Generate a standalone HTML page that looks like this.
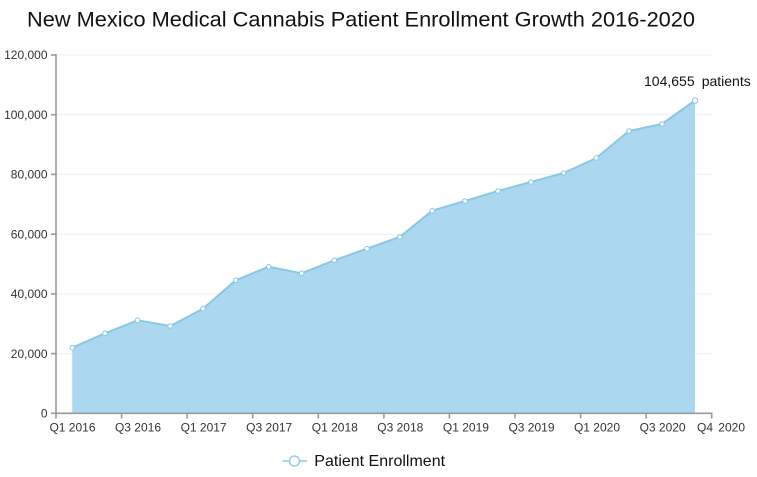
<!DOCTYPE html>
<html>
<head>
<meta charset="utf-8">
<style>
  html, body { margin: 0; padding: 0; background: #ffffff; }
  body { width: 757px; height: 477px; overflow: hidden; }
  svg { display: block; font-family: "Liberation Sans", Arial, Helvetica, sans-serif; }
</style>
</head>
<body>
<svg width="757" height="477" viewBox="0 0 757 477" xmlns="http://www.w3.org/2000/svg">
  <rect x="0" y="0" width="757" height="477" fill="#ffffff"/>

  <!-- Title -->
  <text x="27" y="26.5" font-size="21" fill="#111" textLength="668" lengthAdjust="spacingAndGlyphs">New Mexico Medical Cannabis Patient Enrollment Growth 2016-2020</text>

  <!-- Gridlines -->
  <g stroke="#efefef" stroke-width="1">
    <line x1="56" y1="55" x2="712" y2="55"/>
    <line x1="56" y1="114.7" x2="712" y2="114.7"/>
    <line x1="56" y1="174.4" x2="712" y2="174.4"/>
    <line x1="56" y1="234.2" x2="712" y2="234.2"/>
    <line x1="56" y1="293.9" x2="712" y2="293.9"/>
    <line x1="56" y1="353.6" x2="712" y2="353.6"/>
  </g>

  <!-- Area -->
  <path d="M72.3,413.3 L72.3,347.7 L105,333.3 L137.7,320.3 L170.3,326 L203,308.7 L235.7,280.3 L268.7,266.7 L301.7,273.3 L334.3,260.3 L367,248.7 L399.7,237 L432.3,210.7 L465,201 L498,191 L531,182 L563.7,173 L596.3,158 L629,131 L662,124 L695,100.5 L695,413.3 Z" fill="#a8d6ee" fill-opacity="0.95"/>
  <line x1="72.3" y1="347.7" x2="72.3" y2="413.3" stroke="#c4e4f4" stroke-width="1"/>
  <polyline points="72.3,347.7 105,333.3 137.7,320.3 170.3,326 203,308.7 235.7,280.3 268.7,266.7 301.7,273.3 334.3,260.3 367,248.7 399.7,237 432.3,210.7 465,201 498,191 531,182 563.7,173 596.3,158 629,131 662,124 695,100.5" fill="none" stroke="#87c8e6" stroke-width="2" stroke-linejoin="round"/>
  <g fill="#ffffff" stroke="#87c8e6" stroke-width="1">
    <circle cx="72.3" cy="347.7" r="2.3"/>
    <circle cx="105" cy="333.3" r="2.3"/>
    <circle cx="137.7" cy="320.3" r="2.3"/>
    <circle cx="170.3" cy="326" r="2.3"/>
    <circle cx="203" cy="308.7" r="2.3"/>
    <circle cx="235.7" cy="280.3" r="2.3"/>
    <circle cx="268.7" cy="266.7" r="2.3"/>
    <circle cx="301.7" cy="273.3" r="2.3"/>
    <circle cx="334.3" cy="260.3" r="2.3"/>
    <circle cx="367" cy="248.7" r="2.3"/>
    <circle cx="399.7" cy="237" r="2.3"/>
    <circle cx="432.3" cy="210.7" r="2.3"/>
    <circle cx="465" cy="201" r="2.3"/>
    <circle cx="498" cy="191" r="2.3"/>
    <circle cx="531" cy="182" r="2.3"/>
    <circle cx="563.7" cy="173" r="2.3"/>
    <circle cx="596.3" cy="158" r="2.3"/>
    <circle cx="629" cy="131" r="2.3"/>
    <circle cx="662" cy="124" r="2.3"/>
    <circle cx="695" cy="100.5" r="2.8"/>
  </g>

  <!-- Axes -->
  <g stroke="#999999" stroke-width="1.6">
    <line x1="56" y1="54" x2="56" y2="414"/>
    <line x1="55.2" y1="413.3" x2="712.5" y2="413.3"/>
    <!-- y ticks -->
    <line x1="51" y1="55" x2="56" y2="55"/>
    <line x1="51" y1="114.7" x2="56" y2="114.7"/>
    <line x1="51" y1="174.4" x2="56" y2="174.4"/>
    <line x1="51" y1="234.2" x2="56" y2="234.2"/>
    <line x1="51" y1="293.9" x2="56" y2="293.9"/>
    <line x1="51" y1="353.6" x2="56" y2="353.6"/>
    <line x1="51" y1="413.3" x2="56" y2="413.3"/>
    <!-- x ticks -->
    <line x1="56" y1="413.3" x2="56" y2="418.5"/>
    <line x1="121.6" y1="413.3" x2="121.6" y2="418.5"/>
    <line x1="187.1" y1="413.3" x2="187.1" y2="418.5"/>
    <line x1="252.7" y1="413.3" x2="252.7" y2="418.5"/>
    <line x1="318.3" y1="413.3" x2="318.3" y2="418.5"/>
    <line x1="383.9" y1="413.3" x2="383.9" y2="418.5"/>
    <line x1="449.4" y1="413.3" x2="449.4" y2="418.5"/>
    <line x1="515" y1="413.3" x2="515" y2="418.5"/>
    <line x1="580.6" y1="413.3" x2="580.6" y2="418.5"/>
    <line x1="646.1" y1="413.3" x2="646.1" y2="418.5"/>
    <line x1="711.7" y1="413.3" x2="711.7" y2="418.5"/>
  </g>

  <!-- Y labels -->
  <g font-size="12" fill="#333" text-anchor="end">
    <text x="47.5" y="59.2">120,000</text>
    <text x="47.5" y="118.9">100,000</text>
    <text x="47.5" y="178.6">80,000</text>
    <text x="47.5" y="238.4">60,000</text>
    <text x="47.5" y="298.1">40,000</text>
    <text x="47.5" y="357.8">20,000</text>
    <text x="47.5" y="417.5">0</text>
  </g>

  <!-- X labels -->
  <g font-size="12" fill="#333" text-anchor="middle">
    <text x="72.5" y="431.5">Q1 2016</text>
    <text x="138" y="431.5">Q3 2016</text>
    <text x="203.6" y="431.5">Q1 2017</text>
    <text x="269.2" y="431.5">Q3 2017</text>
    <text x="334.8" y="431.5">Q1 2018</text>
    <text x="400.3" y="431.5">Q3 2018</text>
    <text x="465.9" y="431.5">Q1 2019</text>
    <text x="531.5" y="431.5">Q3 2019</text>
    <text x="597" y="431.5">Q1 2020</text>
    <text x="662.6" y="431.5">Q3 2020</text>
  </g>
  <g font-size="12" fill="#333">
    <text x="697" y="431.5">Q4</text>
    <text x="718.3" y="431.5">2020</text>
  </g>

  <!-- Annotation -->
  <g font-size="14" fill="#111">
    <text x="644" y="86">104,655</text>
    <text x="701.7" y="86">patients</text>
  </g>

  <!-- Legend -->
  <line x1="282.7" y1="461" x2="307" y2="461" stroke="#87c8e6" stroke-width="1.5"/>
  <circle cx="294.5" cy="461" r="5" fill="#ffffff" stroke="#87c8e6" stroke-width="1.3"/>
  <text x="314.3" y="466" font-size="16" fill="#111">Patient Enrollment</text>
</svg>
</body>
</html>
